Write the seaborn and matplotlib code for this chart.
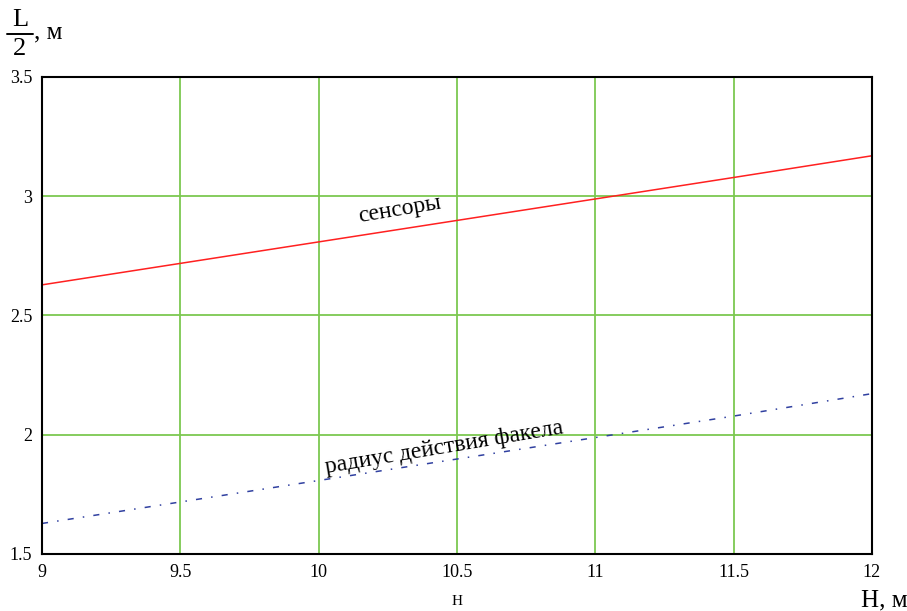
import numpy as np
import pandas as pd
import matplotlib.pyplot as plt
import seaborn as sns

# Data
H = [9.0, 9.5, 10.0, 10.5, 11.0, 11.5, 12.0]
sensors = [2.628, 2.718, 2.808, 2.898, 2.988, 3.078, 3.169]
torch_radius = [1.628, 1.718, 1.808, 1.898, 1.988, 2.078, 2.172]

df = pd.DataFrame({'H': H, 'sensors': sensors, 'torch': torch_radius})

sns.set_style('white')
plt.rcParams['font.family'] = ['Liberation Serif', 'DejaVu Serif']
plt.rcParams['text.color'] = 'black'
plt.rcParams['xtick.color'] = 'black'
plt.rcParams['ytick.color'] = 'black'
plt.rcParams['axes.labelcolor'] = 'black'

fig = plt.figure(figsize=(9.07, 6.11), dpi=100)
ax = fig.add_axes([0.0463, 0.0933, 0.915, 0.781])

sns.lineplot(data=df, x='H', y='sensors', ax=ax, color='#ff2020', linewidth=1.1)
sns.lineplot(data=df, x='H', y='torch', ax=ax, color='#3040a0', linewidth=1.1,
             linestyle=(0, (4, 6, 1, 6)))

ax.set_xlim(9, 12)
ax.set_ylim(1.5, 3.5)
ax.set_xticks([9, 9.5, 10, 10.5, 11, 11.5, 12])
ax.set_xticklabels(['9', '9.5', '10', '10.5', '11', '11.5', '12'])
ax.set_yticks([1.5, 2, 2.5, 3, 3.5])
ax.set_yticklabels(['1.5', '2', '2.5', '3', '3.5'])
ax.grid(True, color='#7cc850', linewidth=1.3)
ax.set_axisbelow(True)
ax.tick_params(labelsize=13, length=0, pad=7)
for s in ax.spines.values():
    s.set_color('black')
    s.set_linewidth(1.5)
ax.set_xlabel('H', fontsize=11, labelpad=10)
ax.set_ylabel('')

ax.text(10.3, 2.9, 'сенсоры', fontsize=17, rotation=9.5,
        ha='center', va='bottom', rotation_mode='anchor')
ax.text(10.46, 1.9, 'радиус действия факела', fontsize=17, rotation=9.5,
        ha='center', va='bottom', rotation_mode='anchor')

# axis titles in Mathcad style
fig.text(884 / 907, 1 - 600 / 611, 'H, м', fontsize=18, ha='center', va='center')
fig.text(20 / 907, 1 - 20 / 611, 'L', fontsize=19, ha='center', va='center')
fig.lines.append(plt.Line2D([7 / 907, 33 / 907], [1 - 34 / 611, 1 - 34 / 611],
                            color='black', linewidth=1.4, transform=fig.transFigure))
fig.text(20 / 907, 1 - 49 / 611, '2', fontsize=19, ha='center', va='center')
fig.text(34 / 907, 1 - 32 / 611, ', м', fontsize=18, ha='left', va='center')

plt.savefig('out.png', dpi=100)
